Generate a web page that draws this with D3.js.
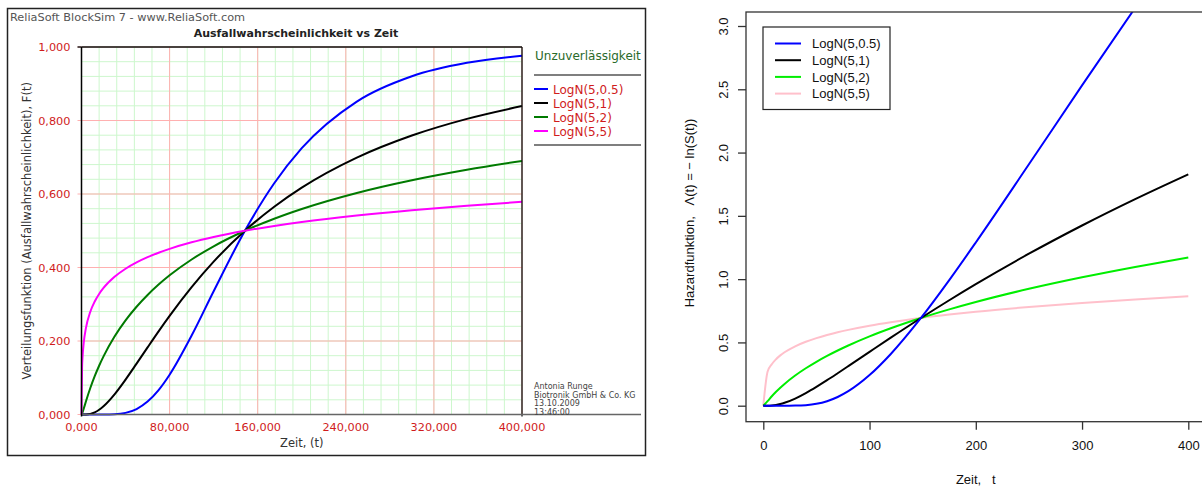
<!DOCTYPE html>
<head>
	<script src="https://d3js.org/d3.v7.min.js"></script>
	<style>
		body {
			margin: 0;
			background: #fff;
		}
		.rs { font-family: "DejaVu Sans", sans-serif; }
		.rtick { font-family: "DejaVu Sans", sans-serif; font-size: 11.3px; fill: #d01c1c; }
		.rlab { font-family: "DejaVu Sans", sans-serif; font-size: 11.5px; fill: #333; }
		.r { font-family: "Liberation Sans", Arial, sans-serif; font-size: 13px; fill: #111; }
	</style>
</head>
<body>
	<script>
		// data
		var seriesNames = ["LogN(5,0.5)", "LogN(5,1)", "LogN(5,2)", "LogN(5,5)"];

		// left panel: F(t)
		var tCdf = [0, 0.5, 1, 2, 4, 8, 12, 16, 20, 30, 40, 50, 60, 70, 80, 100, 120, 148.4, 175, 200, 250, 300, 350, 400];
		var cdf05 = [0, 0, 0, 0, 0, 0, 0, 0, 0.00003, 0.0007, 0.0044, 0.0148, 0.0351, 0.0664, 0.1082, 0.2148, 0.3354, 0.5, 0.6292, 0.7246, 0.8515, 0.9204, 0.9569, 0.9763];
		var cdf1 = [0, 0, 0, 0.00001, 0.00015, 0.00175, 0.006, 0.013, 0.0225, 0.0549, 0.0949, 0.1383, 0.1825, 0.2262, 0.2683, 0.3465, 0.4159, 0.5, 0.5654, 0.6173, 0.699, 0.7592, 0.8045, 0.8393];
		var cdf2 = [0, 0.0022, 0.0062, 0.0157, 0.0354, 0.0721, 0.1043, 0.1327, 0.1581, 0.212, 0.256, 0.2932, 0.3253, 0.3535, 0.3787, 0.4218, 0.4577, 0.5, 0.5328, 0.5593, 0.6029, 0.6375, 0.666, 0.69];
		var cdf5 = [0, 0.1274, 0.1587, 0.1946, 0.2349, 0.2796, 0.3075, 0.328, 0.3443, 0.3746, 0.3966, 0.4139, 0.4281, 0.4403, 0.4508, 0.4685, 0.483, 0.5, 0.5131, 0.5238, 0.5415, 0.556, 0.5681, 0.5786];

		// right panel: cumulative hazard
		var tHaz = [0, 4, 8, 12, 16, 20, 30, 40, 50, 60, 70, 80, 100, 120, 148.4, 175, 200, 250, 300, 350, 400];
		var haz05 = [0, 0, 0, 0, 0, 0.00003, 0.0007, 0.0044, 0.0149, 0.0357, 0.0687, 0.1145, 0.2418, 0.4086, 0.6931, 0.9921, 1.2895, 1.9072, 2.5307, 3.144, 3.742];
		var haz1 = [0, 0.00015, 0.00175, 0.006, 0.0131, 0.0228, 0.0565, 0.0997, 0.1489, 0.2015, 0.2565, 0.3124, 0.4254, 0.5377, 0.6931, 0.8333, 0.9605, 1.2006, 1.4238, 1.6322, 1.8282];
		var haz2 = [0, 0.036, 0.0748, 0.1101, 0.1424, 0.1721, 0.2383, 0.2957, 0.347, 0.3935, 0.4362, 0.4759, 0.5478, 0.6119, 0.6931, 0.761, 0.8194, 0.9236, 1.0147, 1.0966, 1.1712];
		var haz5 = [0, 0.2677, 0.3279, 0.3675, 0.3975, 0.422, 0.4694, 0.5052, 0.5342, 0.5588, 0.5803, 0.5992, 0.632, 0.6597, 0.6931, 0.7197, 0.7419, 0.7798, 0.812, 0.8396, 0.8642];

		var xTicksLeft = [0, 80, 160, 240, 320, 400];
		var yTicksLeft = [0, 0.2, 0.4, 0.6, 0.8, 1.0];
		var xTicksRight = [0, 100, 200, 300, 400];
		var yTicksRight = [0, 0.5, 1, 1.5, 2, 2.5, 3];
		var annotation = ["Antonia Runge", "Biotronik GmbH & Co. KG", "13.10.2009", "13:46:00"];

		var leftColors = ["#0000ff", "#000000", "#007a00", "#ff00ff"];
		var rightColors = ["#0000ff", "#000000", "#00ee00", "#ffc0cb"];

		var svg = d3.select("body").append("svg")
			.attr("width", 1202)
			.attr("height", 488);

		var fmt = function(v) { return d3.format(".3f")(v).replace(".", ","); };

		// ================= left panel =================
		var L = svg.append("g");
		L.append("rect")
			.attr("x", 7.5).attr("y", 8.5).attr("width", 638).attr("height", 447)
			.attr("fill", "#fff").attr("stroke", "#222").attr("stroke-width", 1.5);

		var xL = d3.scaleLinear().domain([0, 400]).range([81.5, 522]);
		var yL = d3.scaleLinear().domain([0, 1]).range([414.5, 47]);

		// minor grid
		L.append("g").selectAll("line").data(d3.range(0, 401, 16)).enter().append("line")
			.attr("x1", function(d) { return xL(d); }).attr("x2", function(d) { return xL(d); })
			.attr("y1", yL(0)).attr("y2", yL(1))
			.attr("stroke", "#cdf7cd").attr("stroke-width", 1);
		L.append("g").selectAll("line").data(d3.range(0, 1.001, 0.04)).enter().append("line")
			.attr("y1", function(d) { return yL(d); }).attr("y2", function(d) { return yL(d); })
			.attr("x1", xL(0)).attr("x2", xL(400))
			.attr("stroke", "#cdf7cd").attr("stroke-width", 1);
		// major grid
		L.append("g").selectAll("line").data(xTicksLeft).enter().append("line")
			.attr("x1", function(d) { return xL(d); }).attr("x2", function(d) { return xL(d); })
			.attr("y1", yL(0)).attr("y2", yL(1))
			.attr("stroke", "#ffb0b0").attr("stroke-width", 1);
		L.append("g").selectAll("line").data(yTicksLeft).enter().append("line")
			.attr("y1", function(d) { return yL(d); }).attr("y2", function(d) { return yL(d); })
			.attr("x1", xL(0) - 4).attr("x2", xL(400))
			.attr("stroke", "#ffb0b0").attr("stroke-width", 1);

		// curves
		var cdfSeries = [cdf05, cdf1, cdf2, cdf5];
		var lineL = d3.line()
			.x(function(d) { return xL(d[0]); })
			.y(function(d) { return yL(d[1]); })
			.curve(d3.curveMonotoneX);
		cdfSeries.forEach(function(s, i) {
			L.append("path")
				.datum(tCdf.map(function(t, j) { return [t, s[j]]; }))
				.attr("d", lineL)
				.attr("fill", "none")
				.attr("stroke", leftColors[i])
				.attr("stroke-width", 2);
		});

		// frame of plot area
		L.append("line").attr("x1", xL(0)).attr("x2", xL(400)).attr("y1", yL(1)).attr("y2", yL(1)).attr("stroke", "#111").attr("stroke-width", 1.3);
		L.append("line").attr("x1", xL(400)).attr("x2", xL(400)).attr("y1", yL(1)).attr("y2", yL(0) + 2).attr("stroke", "#111").attr("stroke-width", 1.3);
		L.append("line").attr("x1", xL(0)).attr("x2", 641).attr("y1", yL(0)).attr("y2", yL(0)).attr("stroke", "#666").attr("stroke-width", 1.5);
		L.append("line").attr("x1", xL(0)).attr("x2", xL(0)).attr("y1", yL(1)).attr("y2", yL(0) + 2).attr("stroke", "#000").attr("stroke-width", 1.5);
		L.append("line").attr("x1", xL(0) - 4).attr("x2", xL(0)).attr("y1", yL(1)).attr("y2", yL(1)).attr("stroke", "#000").attr("stroke-width", 1.3);

		// tick labels
		L.append("g").selectAll("text").data(yTicksLeft).enter().append("text")
			.attr("class", "rtick")
			.attr("x", 70.5).attr("y", function(d) { return yL(d) + 4; })
			.attr("text-anchor", "end")
			.text(fmt);
		L.append("g").selectAll("text").data(xTicksLeft).enter().append("text")
			.attr("class", "rtick")
			.attr("x", function(d) { return xL(d); }).attr("y", 431)
			.attr("text-anchor", "middle")
			.text(fmt);

		// titles
		L.append("text").attr("class", "rs")
			.attr("x", 10).attr("y", 20.5)
			.attr("font-size", "11.3px").attr("fill", "#555")
			.text("ReliaSoft BlockSim 7 - www.ReliaSoft.com");
		L.append("text").attr("class", "rs")
			.attr("x", 296).attr("y", 37)
			.attr("font-size", "11px").attr("font-weight", "bold").attr("fill", "#222")
			.attr("text-anchor", "middle")
			.text("Ausfallwahrscheinlichkeit vs Zeit");
		L.append("text").attr("class", "rlab")
			.attr("x", xL(200)).attr("y", 447)
			.attr("text-anchor", "middle")
			.text("Zeit, (t)");
		L.append("text").attr("class", "rlab")
			.attr("transform", "translate(" + [31, yL(0.5)] + ") rotate(-90)")
			.attr("text-anchor", "middle")
			.text("Verteilungsfunktion (Ausfallwahrscheinlichkeit), F(t)");

		// legend
		L.append("text").attr("class", "rs")
			.attr("x", 535).attr("y", 60)
			.attr("font-size", "12px").attr("fill", "#2a6a2a")
			.text("Unzuverlässigkeit");
		L.append("line").attr("x1", 534).attr("x2", 641).attr("y1", 75).attr("y2", 75).attr("stroke", "#555").attr("stroke-width", 1.3);
		L.append("line").attr("x1", 534).attr("x2", 641).attr("y1", 145).attr("y2", 145).attr("stroke", "#555").attr("stroke-width", 1.3);
		var legL = L.append("g").selectAll("g").data(seriesNames).enter().append("g")
			.attr("transform", function(d, i) { return "translate(" + [534, 89 + i * 14] + ")"; });
		legL.append("line").attr("x1", 0).attr("x2", 14).attr("y1", 0).attr("y2", 0)
			.attr("stroke", function(d, i) { return leftColors[i]; }).attr("stroke-width", 2);
		legL.append("text").attr("class", "rs")
			.attr("x", 19).attr("y", 4.5)
			.attr("font-size", "12px").attr("fill", "#d01c1c")
			.text(function(d) { return d; });

		// annotation
		L.append("g").selectAll("text").data(annotation).enter().append("text").attr("class", "rs")
			.attr("x", 534).attr("y", function(d, i) { return 389 + i * 8.5; })
			.attr("font-size", "8px").attr("fill", "#444")
			.text(function(d) { return d; });

		// ================= right panel =================
		var R = svg.append("g");
		var xR = d3.scaleLinear().domain([0, 400]).range([763.3, 1188.3]);
		var yR = d3.scaleLinear().domain([0, 3]).range([405.7, 26]);
		var boxTop = 12, boxBottom = 421.7, boxLeft = 746, boxRight = 1215;

		R.append("defs").append("clipPath").attr("id", "clipR")
			.append("rect").attr("x", boxLeft).attr("y", boxTop).attr("width", boxRight - boxLeft).attr("height", boxBottom - boxTop);

		var hazSeries = [haz05, haz1, haz2, haz5];
		var lineR = d3.line()
			.x(function(d) { return xR(d[0]); })
			.y(function(d) { return yR(d[1]); })
			.curve(d3.curveMonotoneX);
		var curvesR = R.append("g").attr("clip-path", "url(#clipR)");
		[3, 2, 1, 0].forEach(function(i) {
			curvesR.append("path")
				.datum(tHaz.map(function(t, j) { return [t, hazSeries[i][j]]; }))
				.attr("d", lineR)
				.attr("fill", "none")
				.attr("stroke", rightColors[i])
				.attr("stroke-width", 2);
		});

		// box
		R.append("rect")
			.attr("x", boxLeft).attr("y", boxTop).attr("width", boxRight - boxLeft).attr("height", boxBottom - boxTop)
			.attr("fill", "none").attr("stroke", "#333").attr("stroke-width", 1.3);

		// axes
		var axisX = d3.axisBottom(xR).tickValues(xTicksRight).tickSize(8).tickPadding(8).tickFormat(d3.format("d"));
		var axisY = d3.axisLeft(yR).tickValues(yTicksRight).tickSize(8).tickFormat(d3.format(".1f"));
		var gx = R.append("g").attr("transform", "translate(0," + boxBottom + ")").call(axisX);
		var gy = R.append("g").attr("transform", "translate(" + boxLeft + ",0)").call(axisY);
		[gx, gy].forEach(function(g) {
			g.select(".domain").remove();
			g.selectAll(".tick line").attr("stroke", "#333").attr("stroke-width", 1.3);
			g.selectAll("text").attr("class", "r").attr("font-size", null).attr("font-family", null).attr("fill", null);
		});
		gx.selectAll("text").attr("dy", "0.71em").attr("y", 19);
		gy.selectAll(".tick text")
			.attr("x", null).attr("y", 0)
			.attr("text-anchor", "middle")
			.attr("dy", "0.35em")
			.attr("transform", "translate(-23,0) rotate(-90)");

		R.append("text").attr("class", "r")
			.attr("x", xR(200)).attr("y", 484)
			.attr("text-anchor", "middle")
			.attr("xml:space", "preserve")
			.text("Zeit,   t");
		R.append("text").attr("class", "r")
			.attr("transform", "translate(" + [694, 213] + ") rotate(-90)")
			.attr("text-anchor", "middle")
			.attr("xml:space", "preserve")
			.text("Hazardfunktion,   \u039B(t) = \u2212 ln(S(t))");

		// legend
		R.append("rect").attr("x", 763).attr("y", 27).attr("width", 127).attr("height", 82.5)
			.attr("fill", "#fff").attr("stroke", "#222").attr("stroke-width", 1.2);
		var legR = R.append("g").selectAll("g").data(seriesNames).enter().append("g")
			.attr("transform", function(d, i) { return "translate(" + [775, 43.5 + i * 16.7] + ")"; });
		legR.append("line").attr("x1", 0).attr("x2", 26).attr("y1", 0).attr("y2", 0)
			.attr("stroke", function(d, i) { return rightColors[i]; }).attr("stroke-width", 2);
		legR.append("text").attr("class", "r")
			.attr("x", 37).attr("y", 4.7)
			.text(function(d) { return d; });
	</script>
</body>
</html>
